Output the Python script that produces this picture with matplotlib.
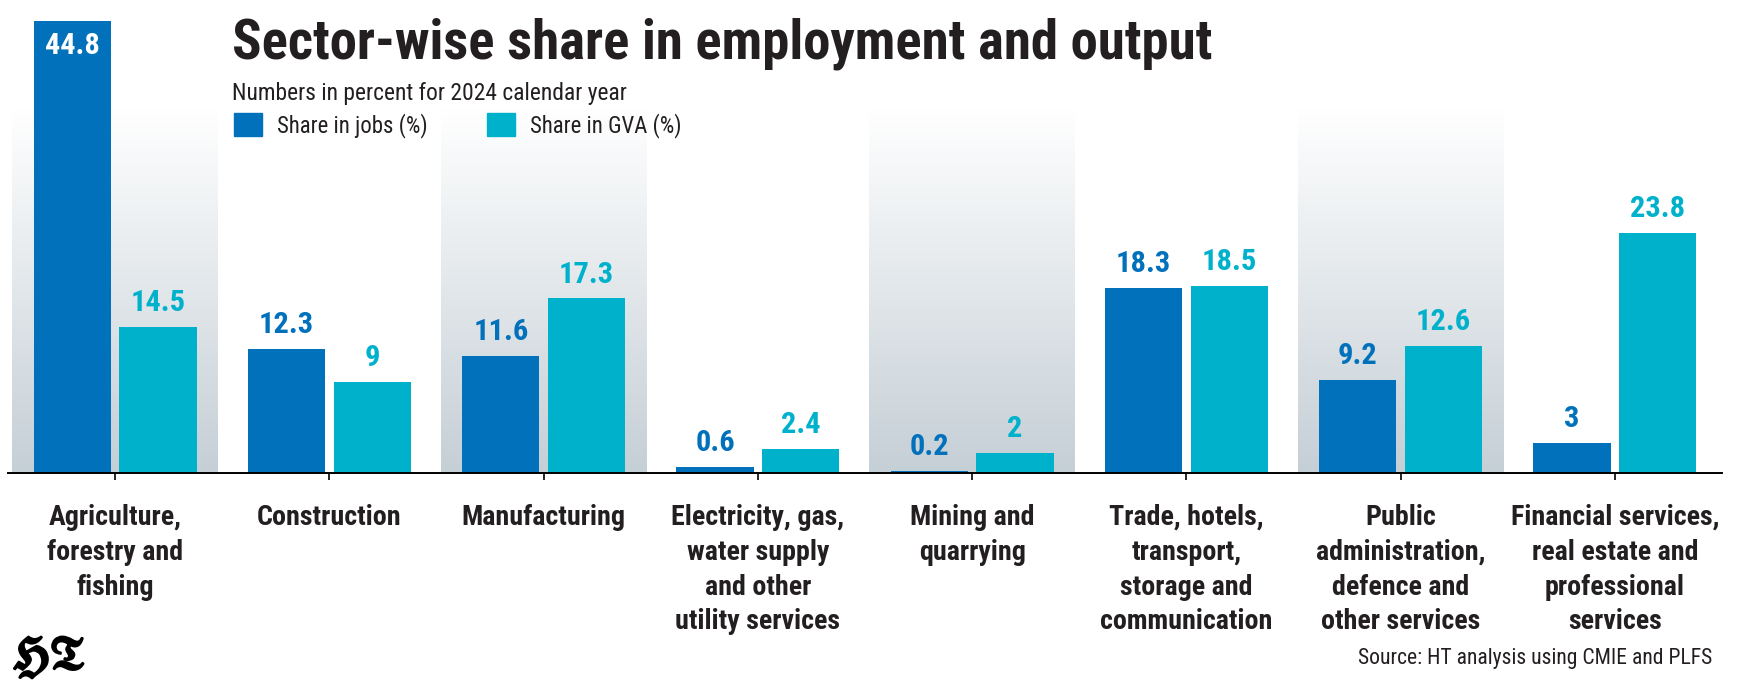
import numpy as np
import matplotlib
matplotlib.use("Agg")
import matplotlib.pyplot as plt
from matplotlib import font_manager as fm
from matplotlib import patheffects as pe
from matplotlib.patches import Patch
from matplotlib.colors import LinearSegmentedColormap

# data
sectors = ["Agriculture,\nforestry and\nfishing", "Construction", "Manufacturing",
           "Electricity, gas,\nwater supply\nand other\nutility services",
           "Mining and\nquarrying",
           "Trade, hotels,\ntransport,\nstorage and\ncommunication",
           "Public\nadministration,\ndefence and\nother services",
           "Financial services,\nreal estate and\nprofessional\nservices"]
jobs = [44.8, 12.3, 11.6, 0.6, 0.2, 18.3, 9.2, 3]
gva = [14.5, 9, 17.3, 2.4, 2, 18.5, 12.6, 23.8]
jobs_text = ["44.8", "12.3", "11.6", "0.6", "0.2", "18.3", "9.2", "3"]
gva_text = ["14.5", "9", "17.3", "2.4", "2", "18.5", "12.6", "23.8"]
legend_labels = ["Share in jobs (%)", "Share in GVA (%)"]

DARK = "#0071ba"
CYAN = "#00b1cc"
INK = "#231f20"


def pick_condensed():
    # look for a narrow sans so the text keeps the look of the original
    fonts = fm.fontManager.ttflist
    prefs = ["Roboto Condensed", "Liberation Sans Narrow", "Open Sans Condensed",
             "Noto Sans Condensed", "DejaVu Sans Condensed"]
    names = {f.name for f in fonts}
    for p in prefs:
        if p in names:
            return p, "normal"
    for fam in ["Noto Sans", "Open Sans", "DejaVu Sans", "Roboto"]:
        for f in fonts:
            if f.name == fam and "condensed" in str(f.stretch):
                return fam, "condensed"
    return "DejaVu Sans", "normal"


FAM, STRETCH = pick_condensed()
W, H = 1741, 683
fig = plt.figure(figsize=(W / 100, H / 100), dpi=100)

PX_PER_UNIT = 10.1
ax = fig.add_axes([8 / W, 210 / H, 1714 / W, 473 / H])
top = 473 / PX_PER_UNIT

x = np.arange(len(sectors))

# shaded backgrounds behind every other group
cmap = LinearSegmentedColormap.from_list("band", ["#ffffff", "#c5cfd6"])
grad = np.linspace(0, 1, 256).reshape(-1, 1)
band_top = (473 - 108) / PX_PER_UNIT
for i in x[::2]:
    ax.imshow(grad, cmap=cmap, extent=[i - 0.48, i + 0.48, 0, band_top],
              origin="upper", aspect="auto", zorder=0)

ax.bar(x - 0.2, jobs, width=0.36, color=DARK, zorder=2)
ax.bar(x + 0.2, gva, width=0.36, color=CYAN, zorder=2)

ax.set_xlim(-0.5, 7.5)
ax.set_ylim(0, top)

bold = dict(family=FAM, stretch=STRETCH, weight="bold")
reg = dict(family=FAM, stretch=STRETCH, weight="normal")

vals = []
for xi, v, t in zip(x, jobs, jobs_text):
    if v > 40:
        a = ax.annotate(t, (xi - 0.2, v), xytext=(0, -8), textcoords="offset points",
                        ha="center", va="top", color="white", fontsize=22, **bold)
    else:
        a = ax.annotate(t, (xi - 0.2, v), xytext=(0, 7), textcoords="offset points",
                        ha="center", va="bottom", color=DARK, fontsize=22, **bold)
    vals.append(a)
for xi, v, t in zip(x, gva, gva_text):
    a = ax.annotate(t, (xi + 0.2, v), xytext=(0, 7), textcoords="offset points",
                    ha="center", va="bottom", color=CYAN, fontsize=22, **bold)
    vals.append(a)

ax.set_yticks([])
for s in ["left", "right", "top"]:
    ax.spines[s].set_visible(False)
ax.spines["bottom"].set_linewidth(1.4)
ax.spines["bottom"].set_color("black")
ax.set_xticks(x)
ax.set_xticklabels(sectors, linespacing=1.38, color=INK, fontsize=20, **bold)
ax.tick_params(axis="x", length=5, width=1.2, pad=17, color="black")
ax.patch.set_alpha(0)

title = fig.text(232 / W, 1 - 59 / H, "Sector-wise share in employment and output",
                 fontsize=38, color=INK, va="baseline", ha="left", **bold)
sub = fig.text(232 / W, 1 - 100 / H, "Numbers in percent for 2024 calendar year",
               fontsize=18, color=INK, va="baseline", ha="left", **reg)
src = fig.text(1712 / W, 1 - 664 / H, "Source: HT analysis using CMIE and PLFS",
               fontsize=18, color=INK, va="baseline", ha="right", **reg)
logo = fig.text(12 / W, 1 - 669 / H, r"$\mathfrak{HT}$", math_fontfamily="stix",
                fontsize=40, color="black", va="baseline", ha="left")
logo.set_path_effects([pe.withStroke(linewidth=1.6, foreground="black")])

fig.canvas.draw()
r = fig.canvas.get_renderer()


def fit(t, target, lo=0.6, hi=1.1):
    w = t.get_window_extent(r).width
    k = min(max(target / w, lo), hi)
    t.set_fontsize(t.get_fontsize() * k)
    return k


fit(title, 980)
fit(sub, 395)
fit(src, 355)
fit(logo, 73, 0.5, 1.5)
k = fit(ax.get_xticklabels()[-1], 208)
for lab in ax.get_xticklabels():
    lab.set_fontsize(20 * k)
k = fit(vals[-1], 55)
for a in vals:
    a.set_fontsize(22 * k)

# legend with square swatches
handles = [Patch(color=DARK), Patch(color=CYAN)]
probe = fig.text(0, 0, legend_labels[0], fontsize=18, **reg)
fig.canvas.draw()
k = min(max(150 / probe.get_window_extent(r).width, 0.6), 1.1)
probe.remove()
lfs = 18 * k
em = lfs * 100 / 72
leg = fig.legend(handles, legend_labels, ncol=2, frameon=False,
                 loc="upper left", bbox_to_anchor=(234 / W, 1 - 113 / H),
                 prop=dict(size=lfs, **reg), labelcolor=INK,
                 handlelength=28 / em, handleheight=27 / em, handletextpad=15 / em,
                 columnspacing=59 / em, borderpad=0, borderaxespad=0)

fig.savefig("out.png", dpi=100)
